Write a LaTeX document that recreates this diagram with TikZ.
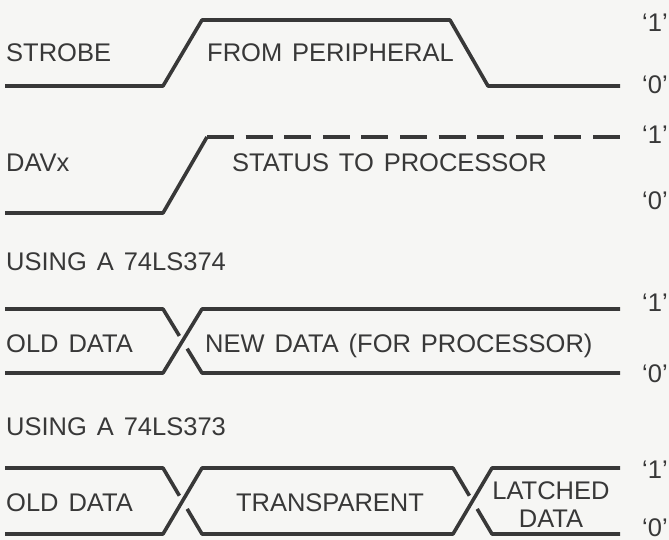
\documentclass[tikz,border=0pt]{standalone}
\usepackage{fontspec}
\usetikzlibrary{calc}
\setmainfont{Liberation Sans}
\newfontfamily\lblfont[WordSpace=1.4]{Liberation Sans}
\definecolor{ink}{HTML}{383838}
\definecolor{paper}{HTML}{F6F6F4}
\begin{document}
\begin{tikzpicture}[x=1pt,y=-1pt,
  sig/.style={draw=ink,line width=3.6pt,line join=round},
  dsig/.style={sig,dash pattern=on 27pt off 11.6pt},
  txt/.style={text=ink,inner sep=0pt,font=\lblfont\fontsize{25.5}{27}\selectfont},
  lft/.style={txt,anchor=base west},
  mid/.style={txt,anchor=base},
  lvl/.style={txt,anchor=base west}]
\fill[paper] (0,0) rectangle (669,540);
\useasboundingbox (0,0) rectangle (669,540);

% ---- STROBE
\coordinate (s0) at (5,86);
\coordinate (s1) at (163,86);
\coordinate (s2) at (202,20);
\coordinate (s3) at (450,20);
\coordinate (s4) at (488,86);
\coordinate (s5) at (620,86);
\draw[sig] (s0) -- (s1) -- (s2) -- (s3) -- (s4) -- (s5);
\node[lft] (strobe) at (6,62) {STROBE};
\node[lft] (fromper) at (207,62) {FROM PERIPHERAL};
\node[lvl] (s1a) at (642,32) {‘1’};
\node[lvl] (s0a) at (642,94) {‘0’};

% ---- DAVx
\coordinate (d0) at (5,213);
\coordinate (d1) at (163,213);
\coordinate (d2) at (207,137);
\coordinate (d3) at (620,137);
\draw[sig] (d0) -- (d1) -- (d2);
\draw[dsig] (d2) -- (d3);
\node[lft] (davx) at (6,172) {DAVx};
\node[lft] (status) at (232,172) {STATUS TO PROCESSOR};
\node[lvl] (d1a) at (642,144) {‘1’};
\node[lvl] (d0a) at (642,209) {‘0’};

\node[lft] (using374) at (6,270) {USING A 74LS374};

% ---- 74LS374 data
\coordinate (a0t) at (5,309);
\coordinate (a0b) at (5,373);
\coordinate (a1t) at (163,309);
\coordinate (a1b) at (163,373);
\coordinate (a2t) at (202,309);
\coordinate (a2b) at (202,373);
\coordinate (a3t) at (620,309);
\coordinate (a3b) at (620,373);
\draw[sig] (a0t) -- (a1t) -- ($(a1t)!0.42!(a2b)$);
\draw[sig] (a0b) -- (a1b) -- (a2t) -- (a3t);
\draw[sig] ($(a1t)!0.62!(a2b)$) -- (a2b) -- (a3b);
\node[lft] (old1) at (6,352) {OLD DATA};
\node[lft] (newdata) at (205,352) {NEW DATA (FOR PROCESSOR)};
\node[lvl] (a1a) at (642,311) {‘1’};
\node[lvl] (a0a) at (642,382) {‘0’};

\node[lft] (using373) at (6,435) {USING A 74LS373};

% ---- 74LS373 data
\coordinate (b0t) at (5,468);
\coordinate (b0b) at (5,534);
\coordinate (b1t) at (163,468);
\coordinate (b1b) at (163,534);
\coordinate (b2t) at (202,468);
\coordinate (b2b) at (202,534);
\coordinate (b3t) at (453,468);
\coordinate (b3b) at (453,534);
\coordinate (b4t) at (492,468);
\coordinate (b4b) at (492,534);
\coordinate (b5t) at (620,468);
\coordinate (b5b) at (620,534);
\draw[sig] (b0t) -- (b1t) -- ($(b1t)!0.42!(b2b)$);
\draw[sig] (b0b) -- (b1b) -- (b2t) -- (b3t) -- ($(b3t)!0.42!(b4b)$);
\draw[sig] ($(b1t)!0.62!(b2b)$) -- (b2b) -- (b3b) -- (b4t) -- (b5t);
\draw[sig] ($(b3t)!0.62!(b4b)$) -- (b4b) -- (b5b);
\node[lft] (old2) at (6,511) {OLD DATA};
\node[mid] (transp) at (330,511) {TRANSPARENT};
\node[mid] (latched) at (551,499) {LATCHED};
\node[mid] (ldata) at (551,527) {DATA};
\node[lvl] (b1a) at (642,478) {‘1’};
\node[lvl] (b0a) at (642,536) {‘0’};
\end{tikzpicture}
\end{document}
